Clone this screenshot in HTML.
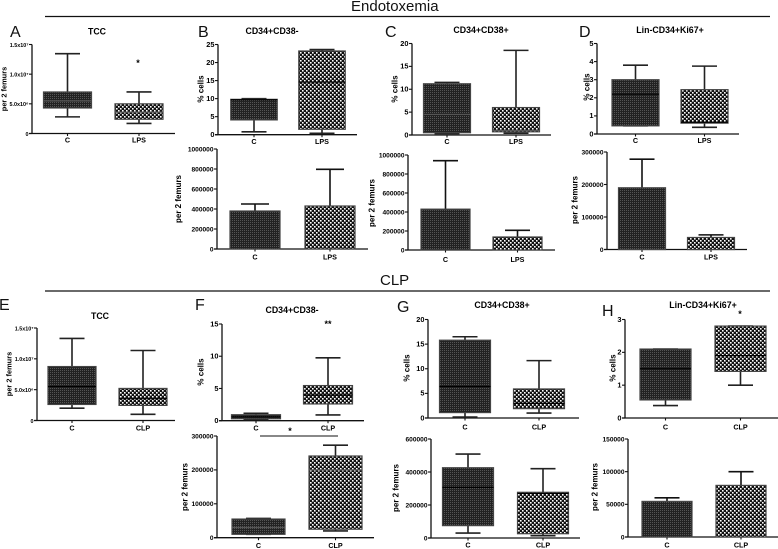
<!DOCTYPE html>
<html lang="en">
<head>
<meta charset="utf-8">
<title>Endotoxemia and CLP panels</title>
<style>
html,body{margin:0;padding:0;background:#fff;width:778px;height:549px;overflow:hidden}
svg{display:block;font-family:"Liberation Sans",sans-serif}
.hd{font-size:15px;fill:#111}
.ltr{font-size:16px;fill:#111}
.ttl{font-size:8.8px;font-weight:bold;fill:#000;text-anchor:middle}
.tk{font-weight:bold;fill:#000;text-anchor:end}
.cat{font-size:7.2px;font-weight:bold;fill:#000;text-anchor:middle}
.yt{font-weight:bold;fill:#000;text-anchor:middle}
.st{font-size:9px;font-weight:bold;fill:#000;text-anchor:middle}
</style>
</head>
<body>
<svg id="fig" xmlns="http://www.w3.org/2000/svg" width="778" height="549" viewBox="0 0 778 549">
<defs>
<pattern id="pd" width="2" height="2" patternUnits="userSpaceOnUse"><rect width="2" height="2" fill="#222"/><rect width="1" height="1" fill="#555"/></pattern>
<pattern id="pl" width="4" height="4" patternUnits="userSpaceOnUse"><rect width="4" height="4" fill="#111"/><rect width="1.6" height="1.6" fill="#fff"/><rect x="2" y="2" width="1.6" height="1.6" fill="#fff"/></pattern>
</defs>
<text class="hd" x="351" y="11">Endotoxemia</text>
<line x1="45" y1="16.5" x2="770" y2="16.5" stroke="#111" stroke-width="1.2"/>
<text class="hd" x="380" y="285">CLP</text>
<line x1="45" y1="291" x2="770" y2="291" stroke="#111" stroke-width="1.2"/>
<text class="ltr" x="10" y="37">A</text>
<text class="ltr" x="198" y="37">B</text>
<text class="ltr" x="385" y="37">C</text>
<text class="ltr" x="579" y="37">D</text>
<text class="ltr" x="-1" y="310">E</text>
<text class="ltr" x="195" y="310">F</text>
<text class="ltr" x="397" y="312">G</text>
<text class="ltr" x="602" y="316">H</text>
<text class="ttl" x="97" y="34.5">TCC</text>
<text class="ttl" x="272" y="34">CD34+CD38-</text>
<text class="ttl" x="481" y="33">CD34+CD38+</text>
<text class="ttl" x="670" y="33">Lin-CD34+Ki67+</text>
<text class="ttl" x="100" y="319">TCC</text>
<text class="ttl" x="292" y="313">CD34+CD38-</text>
<text class="ttl" x="502" y="308">CD34+CD38+</text>
<text class="ttl" x="703" y="308">Lin-CD34+Ki67+</text>
<text class="st" x="138" y="66">*</text>
<text class="st" x="328" y="327">**</text>
<text class="st" x="290" y="434">*</text>
<line x1="260" y1="436" x2="338" y2="436" stroke="#111" stroke-width="0.9"/>
<text class="st" x="740" y="317">*</text>
</svg>
<script>
// Panel A
const aCategories=['C','LPS'];
const aTicks=[0,5000000,10000000,15000000];
const aTickLabels=['0','5.0x10⁶','1.0x10⁷','1.5x10⁷'];
const aMin=[2800000,1700000];
const aQ1=[4300000,2400000];
const aMedian=[5500000,3600000];
const aQ3=[7000000,5000000];
const aMax=[13450000,7000000];
// Panel B (percent)
const bCategories=['C','LPS'];
const bTicks=[0,5,10,15,20,25];
const bTickLabels=['0','5','10','15','20','25'];
const bMin=[0.8,0.4];
const bQ1=[4.1,1.5];
const bMedian=[9.7,14.6];
const bQ3=[9.8,23.2];
const bMax=[10,23.6];
// Panel B (counts)
const b2Categories=['C','LPS'];
const b2Ticks=[0,200000,400000,600000,800000,1000000];
const b2TickLabels=['0','200000','400000','600000','800000','1000000'];
const b2Means=[380000,430000];
const b2Upper=[450000,797000];
// Panel C (percent)
const cCategories=['C','LPS'];
const cTicks=[0,5,10,15,20];
const cTickLabels=['0','5','10','15','20'];
const cMin=[0.3,0.4];
const cQ1=[0.5,0.7];
const cMedian=[4.5,1];
const cQ3=[11.2,6];
const cMax=[11.5,18.5];
// Panel C (counts)
const c2Categories=['C','LPS'];
const c2Ticks=[0,200000,400000,600000,800000,1000000];
const c2TickLabels=['0','200000','400000','600000','800000','1000000'];
const c2Means=[430000,137000];
const c2Upper=[940000,207000];
// Panel D (percent)
const dCategories=['C','LPS'];
const dTicks=[0,1,2,3,4,5];
const dTickLabels=['0','1','2','3','4','5'];
const dMin=[0.45,0.37];
const dQ1=[0.45,0.6];
const dMedian=[2.2,0.65];
const dQ3=[3,2.45];
const dMax=[3.8,3.75];
// Panel D (counts)
const d2Categories=['C','LPS'];
const d2Ticks=[0,100000,200000,300000];
const d2TickLabels=['0','100000','200000','300000'];
const d2Means=[190000,37000];
const d2Upper=[278000,45000];
// Panel E
const eCategories=['C','CLP'];
const eTicks=[0,5000000,10000000,15000000];
const eTickLabels=['0','5.0x10⁶','1.0x10⁷','1.5x10⁷'];
const eMin=[2000000,1000000];
const eQ1=[2600000,2450000];
const eMedian=[5500000,3600000];
const eQ3=[8750000,5200000];
const eMax=[13300000,11350000];
// Panel F (percent)
const fCategories=['C','CLP'];
const fTicks=[0,5,10,15];
const fTickLabels=['0','5','10','15'];
const fMin=[0.2,0.9];
const fQ1=[0.3,2.6];
const fMedian=[0.6,4];
const fQ3=[0.93,5.45];
const fMax=[1.15,9.75];
// Panel F (counts)
const f2Categories=['C','CLP'];
const f2Ticks=[0,100000,200000,300000];
const f2TickLabels=['0','100000','200000','300000'];
const f2Min=[10000,20000];
const f2Q1=[10000,25000];
const f2Median=[30000,200000];
const f2Q3=[55000,241000];
const f2Max=[57000,273000];
// Panel G (percent)
const gCategories=['C','CLP'];
const gTicks=[0,5,10,15,20];
const gTickLabels=['0','5','10','15','20'];
const gMin=[0.2,1];
const gQ1=[1.1,1.9];
const gMedian=[6.4,3];
const gQ3=[15.8,5.9];
const gMax=[16.5,11.65];
// Panel G (counts)
const g2Categories=['C','CLP'];
const g2Ticks=[0,200000,400000,600000];
const g2TickLabels=['0','200000','400000','600000'];
const g2Min=[30000,14000];
const g2Q1=[75000,26000];
const g2Median=[307000,270000];
const g2Q3=[426000,277000];
const g2Max=[509000,420000];
// Panel H (percent)
const hCategories=['C','CLP'];
const hTicks=[0,1,2,3];
const hTickLabels=['0','1','2','3'];
const hMin=[0.38,1];
const hQ1=[0.55,1.42];
const hMedian=[1.5,1.9];
const hQ3=[2.1,2.8];
const hMax=[2.1,2.8];
// Panel H (counts)
const h2Categories=['C','CLP'];
const h2Ticks=[0,50000,100000,150000];
const h2TickLabels=['0','50000','100000','150000'];
const h2Means=[54500,79000];
const h2Upper=[60000,100000];

const NS='http://www.w3.org/2000/svg';
const fig=document.getElementById('fig');
const fills=['url(#pd)','url(#pl)'];

function make(tag,props,name,text){
  const el=document.createElementNS(NS,tag);
  for(const k in props){el.setAttribute(k,props[k]);}
  
  
  if(text!==undefined){el.textContent=text;}
  fig.appendChild(el);
  return el;
}
function ln(x1,y1,x2,y2,w,c,name){
  return make('line',{x1:x1,y1:y1,x2:x2,y2:y2,'stroke-width':w,stroke:c},name);
}
function yScale(L,ticks){
  const top=ticks[ticks.length-1];
  return function(v){return L.y0-(v/top)*(L.y0-L.yTop);};
}
function drawAxes(id,L,cats,ticks,labels,yTitle){
  const y=yScale(L,ticks);
  const tickSize=L.tickSize||6.6;
  ln(L.x0,L.yTop,L.x0,L.y0,1.3,'#111',id+'-y-axis');
  ln(L.x0-3,L.y0,L.xEnd,L.y0,1.3,'#111',id+'-x-axis');
  ticks.forEach(function(t,i){
    ln(L.x0-3,y(t),L.x0,y(t),1.1,'#111',id+'-y-tick-'+i);
    make('text',{x:L.x0-3.5,y:y(t)+2.3,class:'tk','font-size':tickSize},id+'-y-tick-label-'+i,labels[i]);
  });
  cats.forEach(function(c,i){
    ln(L.cx[i],L.y0,L.cx[i],L.y0+2.5,1.1,'#111',id+'-x-tick-'+i);
    make('text',{x:L.cx[i],y:L.catY,class:'cat'},id+'-category-'+c,c);
  });
  make('text',{x:0,y:0,class:'yt','font-size':L.titleSize||8,transform:'translate('+L.titleX+' '+L.titleY+') rotate(-90)'},id+'-y-title',yTitle);
  return y;
}
function drawBox(id,L,cats,ticks,labels,yTitle,mins,q1,med,q3,maxs){
  const y=drawAxes(id,L,cats,ticks,labels,yTitle);
  cats.forEach(function(c,i){
    const cx=L.cx[i],hw=L.bw/2,capW=L.cap/2;
    ln(cx,y(maxs[i]),cx,y(mins[i]),1.6,'#222',id+'-whisker-'+c);
    ln(cx-capW,y(maxs[i]),cx+capW,y(maxs[i]),1.6,'#222',id+'-max-cap-'+c);
    ln(cx-capW,y(mins[i]),cx+capW,y(mins[i]),1.6,'#222',id+'-min-cap-'+c);
    make('rect',{x:cx-hw,y:y(q3[i]),width:L.bw,height:y(q1[i])-y(q3[i]),fill:fills[i],stroke:'#444','stroke-width':1.2},id+'-box-'+c);
    ln(cx-hw,y(med[i]),cx+hw,y(med[i]),1.2,L.medianColor||'#000',id+'-median-'+c);
  });
}
function drawBars(id,L,cats,ticks,labels,yTitle,means,upper){
  const y=drawAxes(id,L,cats,ticks,labels,yTitle);
  cats.forEach(function(c,i){
    const cx=L.cx[i],hw=L.bw/2,capW=L.cap/2;
    ln(cx,y(upper[i]),cx,y(means[i]),1.6,'#111',id+'-error-'+c);
    ln(cx-capW,y(upper[i]),cx+capW,y(upper[i]),1.6,'#111',id+'-error-cap-'+c);
    make('rect',{x:cx-hw,y:y(means[i]),width:L.bw,height:L.y0-y(means[i]),fill:fills[i],stroke:'#444','stroke-width':1.2},id+'-bar-'+c);
  });
}
const P='per 2 femurs',S='% cells';
drawBox('panel-a',{x0:32,yTop:44.5,y0:133.5,xEnd:175,cx:[67.5,139],bw:48,cap:25,catY:142.5,titleX:6.5,titleY:89,tickSize:5.4,titleSize:7.4,medianColor:'#555'},aCategories,aTicks,aTickLabels,P,aMin,aQ1,aMedian,aQ3,aMax);
drawBox('panel-b-percent',{x0:218,yTop:44.5,y0:134.7,xEnd:357,cx:[254,322],bw:46.5,cap:25,catY:144,titleX:203.5,titleY:89,tickSize:7.4},bCategories,bTicks,bTickLabels,S,bMin,bQ1,bMedian,bQ3,bMax);
drawBars('panel-b-count',{x0:217,yTop:149,y0:249,xEnd:368,cx:[255,330],bw:50,cap:28,catY:259.5,titleX:181,titleY:199},b2Categories,b2Ticks,b2TickLabels,P,b2Means,b2Upper);
drawBox('panel-c-percent',{x0:412,yTop:43.5,y0:135,xEnd:551,cx:[447,516],bw:47,cap:25,catY:144,titleX:397.5,titleY:89,tickSize:7.4,medianColor:'#555'},cCategories,cTicks,cTickLabels,S,cMin,cQ1,cMedian,cQ3,cMax);
drawBars('panel-c-count',{x0:408,yTop:155,y0:250,xEnd:555,cx:[445.5,517.5],bw:49,cap:25,catY:262,titleX:374.5,titleY:203},c2Categories,c2Ticks,c2TickLabels,P,c2Means,c2Upper);
drawBox('panel-d-percent',{x0:597,yTop:43.5,y0:134,xEnd:739,cx:[635.5,704.5],bw:47,cap:25,catY:143,titleX:589.5,titleY:87,tickSize:7.4},dCategories,dTicks,dTickLabels,S,dMin,dQ1,dMedian,dQ3,dMax);
drawBars('panel-d-count',{x0:607,yTop:152,y0:249.5,xEnd:747,cx:[642,711],bw:47,cap:25,catY:259.5,titleX:577.5,titleY:200},d2Categories,d2Ticks,d2TickLabels,P,d2Means,d2Upper);
drawBox('panel-e',{x0:37,yTop:328,y0:420.5,xEnd:175,cx:[72,143],bw:48,cap:25,catY:430.5,titleX:11.5,titleY:374,tickSize:5.4,titleSize:7.4},eCategories,eTicks,eTickLabels,P,eMin,eQ1,eMedian,eQ3,eMax);
drawBox('panel-f-percent',{x0:222,yTop:324,y0:420.7,xEnd:364,cx:[256,328],bw:49,cap:25,catY:430.5,titleX:203.5,titleY:372,tickSize:7.4},fCategories,fTicks,fTickLabels,S,fMin,fQ1,fMedian,fQ3,fMax);
drawBox('panel-f-count',{x0:217,yTop:436,y0:537.7,xEnd:374,cx:[258.5,335.5],bw:53,cap:25,catY:548,titleX:187.5,titleY:487,medianColor:'#555'},f2Categories,f2Ticks,f2TickLabels,P,f2Min,f2Q1,f2Median,f2Q3,f2Max);
drawBox('panel-g-percent',{x0:428,yTop:319.5,y0:418,xEnd:579,cx:[465,539],bw:51,cap:25,catY:429.5,titleX:409.5,titleY:368,tickSize:7.4},gCategories,gTicks,gTickLabels,S,gMin,gQ1,gMedian,gQ3,gMax);
drawBox('panel-g-count',{x0:431,yTop:439,y0:538,xEnd:580,cx:[468,543],bw:51,cap:25,catY:547.5,titleX:398.5,titleY:488},g2Categories,g2Ticks,g2TickLabels,P,g2Min,g2Q1,g2Median,g2Q3,g2Max);
drawBox('panel-h-percent',{x0:625,yTop:319.5,y0:418,xEnd:778,cx:[665.5,740.5],bw:51,cap:25,catY:429.5,titleX:615.5,titleY:368,tickSize:7.4},hCategories,hTicks,hTickLabels,S,hMin,hQ1,hMedian,hQ3,hMax);
drawBars('panel-h-count',{x0:628,yTop:439,y0:537,xEnd:778,cx:[667,741],bw:50,cap:25,catY:547.5,titleX:597.5,titleY:487},h2Categories,h2Ticks,h2TickLabels,P,h2Means,h2Upper);
</script>
</body>
</html>
